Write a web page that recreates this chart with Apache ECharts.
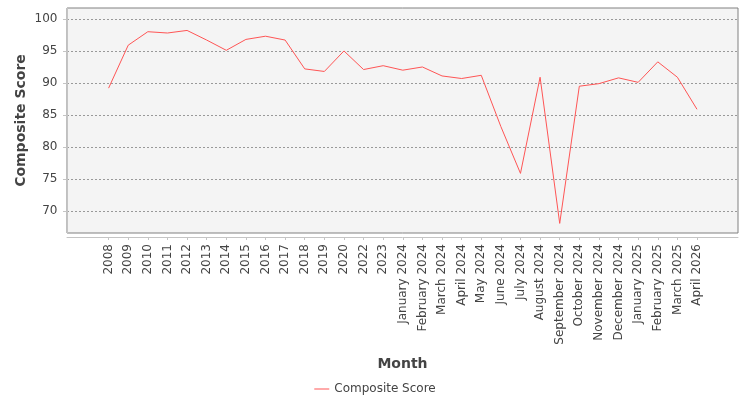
<!DOCTYPE html>
<html>
<head>
<meta charset="utf-8">
<script src="https://cdn.jsdelivr.net/npm/echarts@6/dist/echarts.min.js"></script>
<style>
  html, body { margin: 0; padding: 0; background: #fff; }
  #chart { width: 750px; height: 400px; }
</style>
</head>
<body>
<div id="chart"></div>
<script>
const months = [
    '2008', '2009', '2010', '2011', '2012', '2013', '2014', '2015', '2016', '2017',
    '2018', '2019', '2020', '2022', '2023',
    'January 2024', 'February 2024', 'March 2024', 'April 2024', 'May 2024', 'June 2024',
    'July 2024', 'August 2024', 'September 2024', 'October 2024', 'November 2024',
    'December 2024', 'January 2025', 'February 2025', 'March 2025', 'April 2026'
];
const compositeScore = [
    89.2, 95.9, 98.0, 97.8, 98.2, 96.7, 95.1, 96.8, 97.3, 96.7,
    92.2, 91.8, 95.0, 92.1, 92.7,
    92.0, 92.5, 91.1, 90.7, 91.2, 83.2,
    75.9, 90.9, 68.1, 89.5, 89.9,
    90.8, 90.1, 93.3, 90.9, 85.9
];
const yMin = 66.6;
const yMax = 101.7;

const font = 'DejaVu Sans';
const chart = echarts.init(document.getElementById('chart'));

const option = {
    backgroundColor: '#ffffff',
    animation: false,
    textStyle: { fontFamily: font },
    legend: {
        top: 378,
        left: 'center',
        icon: 'rect',
        itemWidth: 15,
        itemHeight: 1,
        itemGap: 10,
        textStyle: { fontFamily: font, fontSize: 12, color: '#444' },
        data: ['Composite Score']
    },
    grid: [
        {
            // plot frame
            left: 67, top: 8, right: 12, bottom: 167,
            show: true,
            backgroundColor: '#f4f4f4',
            borderColor: '#808080',
            borderWidth: 1
        },
        {
            // data area, inset like the category margins
            left: 98.8, top: 8, right: 43.2, bottom: 167
        }
    ],
    xAxis: [
        {
            gridIndex: 0,
            type: 'value',
            min: 0,
            max: 1,
            offset: 4,
            name: 'Month',
            nameLocation: 'middle',
            nameGap: 120,
            nameMoveOverlap: false,
            nameTextStyle: { fontFamily: font, fontSize: 14, fontWeight: 'bold', color: '#444' },
            axisLine: { show: true, lineStyle: { color: '#c4c4c4' } },
            axisTick: { show: false },
            axisLabel: { show: false },
            splitLine: { show: false }
        },
        {
            gridIndex: 1,
            type: 'category',
            data: months,
            boundaryGap: true,
            offset: 4,
            axisLine: { show: false },
            axisTick: { show: true, alignWithLabel: true, length: 3, lineStyle: { color: '#c4c4c4' } },
            axisLabel: {
                interval: 0,
                rotate: 90,
                margin: 7,
                fontFamily: font,
                fontSize: 12,
                color: '#444'
            },
            splitLine: { show: false }
        }
    ],
    yAxis: [
        {
            gridIndex: 0,
            type: 'value',
            min: yMin,
            max: yMax,
            splitNumber: 7,
            offset: 4,
            name: 'Composite Score',
            nameLocation: 'middle',
            nameGap: 35,
            nameMoveOverlap: false,
            nameTextStyle: { fontFamily: font, fontSize: 14, fontWeight: 'bold', color: '#444' },
            axisLine: { show: true, lineStyle: { color: '#c4c4c4' } },
            axisTick: { show: true, length: 4, lineStyle: { color: '#c4c4c4' } },
            axisLabel: {
                margin: 5.5,
                showMinLabel: false,
                showMaxLabel: false,
                fontFamily: font,
                fontSize: 12,
                color: '#444'
            },
            splitLine: {
                show: true,
                showMinLine: false,
                showMaxLine: false,
                lineStyle: { color: '#999', type: [2, 2], width: 1 }
            }
        },
        {
            gridIndex: 1,
            type: 'value',
            min: yMin,
            max: yMax,
            show: false,
            splitLine: { show: false }
        }
    ],
    series: [{
        name: 'Composite Score',
        type: 'line',
        xAxisIndex: 1,
        yAxisIndex: 1,
        data: compositeScore,
        symbol: 'none',
        itemStyle: { color: '#ff5555' },
        lineStyle: { color: '#ff5555', width: 1 }
    }]
};

chart.setOption(option);
</script>
</body>
</html>
